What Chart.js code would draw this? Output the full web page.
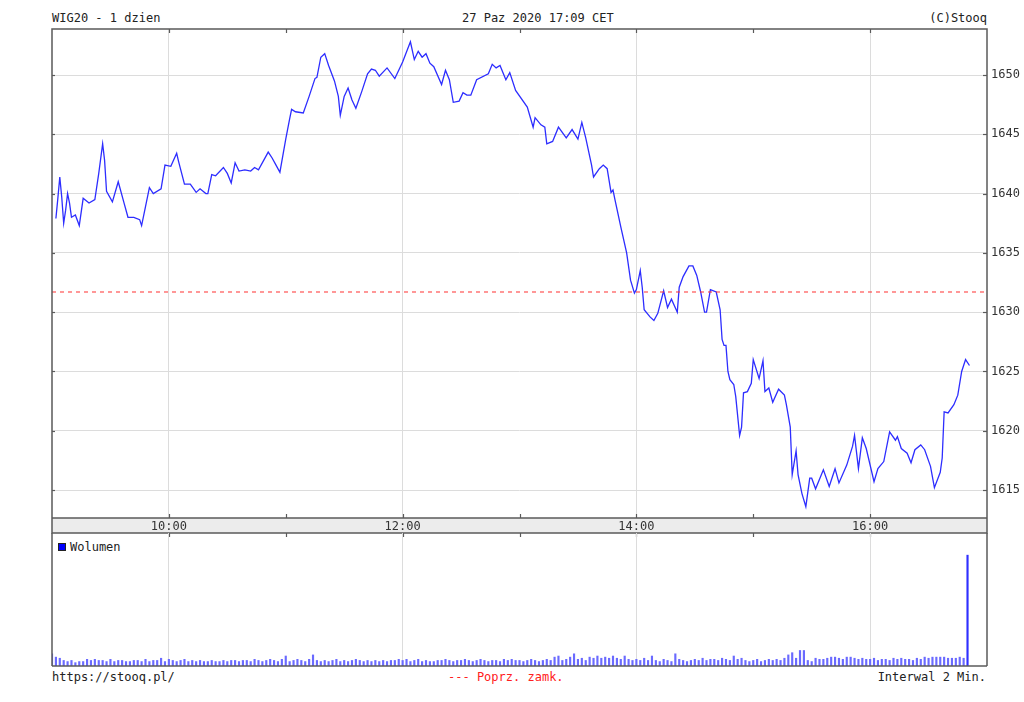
<!DOCTYPE html>
<html>
<head>
<meta charset="utf-8">
<script src="https://cdn.jsdelivr.net/npm/chart.js@4/dist/chart.umd.min.js"></script>
<style>
    body { margin: 0; background: #fff; width: 1024px; height: 702px; overflow: hidden; position: relative;
           font-family: 'DejaVu Sans Mono', monospace; font-size: 12px; color: #222; }
    .txt { position: absolute; line-height: 12px; white-space: pre; }
    canvas { position: absolute; left: 0; }
    .sq { display: inline-block; width: 6px; height: 6px; background: #0000ff; border: 1px solid #222; margin-right: 4px; vertical-align: 0; }
</style>
</head>
<body>
<div class="txt" style="left:52px;top:12px">WIG20 - 1 dzien</div>
<div class="txt" style="left:462px;top:12px">27 Paz 2020 17:09 CET</div>
<div class="txt" style="right:37px;top:12px">(C)Stooq</div>
<div class="txt" style="left:58px;top:541px"><span class="sq"></span>Wolumen</div>
<div class="txt" style="left:52px;top:671px">https://stooq.pl/</div>
<div class="txt" style="left:448px;top:671px;color:#ff2020">--- Poprz. zamk.</div>
<div class="txt" style="right:38px;top:671px">Interwal 2 Min.</div>

<canvas id="priceChart" width="1024" height="540" style="top:0"></canvas>
<canvas id="volumeChart" width="1024" height="140" style="top:530px"></canvas>

<script>
    'use strict';

    // Session axis: minutes after 09:00, session shown 09:00 - 17:00
    const sessionStart = 0;
    const sessionEnd = 480;
    const timeTicks = ['10:00', '12:00', '14:00', '16:00'];
    const priceTicks = [1615, 1620, 1625, 1630, 1635, 1640, 1645, 1650];
    const previousClose = 1631.7;

    // WIG20 intraday (minutes after 09:00)
    const priceMinutes = [
        2, 3, 4, 5, 6, 7, 8, 9, 10, 12, 14, 16, 19, 22, 24, 26, 27, 28, 31, 34,
        37, 39, 42, 45, 46, 48, 50, 52, 56, 58, 61, 64, 65, 68, 71, 74, 76, 79, 80, 82,
        84, 88, 90, 92, 94, 96, 99, 102, 104, 106, 111, 113, 115, 117, 120, 122, 123, 125, 129, 132,
        135, 136, 138, 140, 142, 145, 147, 148, 150, 152, 154, 156, 159, 162, 164, 166, 168, 172, 176, 180,
        184, 186, 188, 190, 192, 194, 196, 200, 202, 204, 206, 209, 211, 213, 215, 218, 224, 226, 228, 230,
        233, 235, 238, 244, 247, 248, 251, 253, 254, 257, 260, 264, 267, 270, 272, 274, 277, 278, 281, 283,
        285, 287, 288, 289, 292, 295, 297, 299, 300, 302, 303, 304, 307, 309, 311, 314, 316, 318, 321, 322,
        324, 327, 329, 331, 333, 335, 336, 338, 341, 343, 344, 345, 346, 347, 348, 350, 351, 353, 354, 355,
        357, 359, 360, 363, 365, 366, 368, 370, 373, 376, 377, 379, 380, 382, 383, 385, 387, 389, 390, 392,
        396, 399, 402, 404, 408, 411, 412, 414, 416, 418, 422, 424, 427, 430, 433, 434, 436, 439, 441, 443,
        446, 448, 451, 453, 456, 457, 458, 460, 463, 465, 467, 469, 471
    ];
    const priceValues = [
        1637.9, 1639.6, 1641.4, 1639.7, 1637.5, 1638.6, 1640.0, 1639.2, 1638.0, 1638.2, 1637.3, 1639.6, 1639.2, 1639.5, 1641.7, 1644.2, 1642.8, 1640.2, 1639.3, 1641.0,
        1639.2, 1638.0, 1638.0, 1637.8, 1637.3, 1638.9, 1640.5, 1640.0, 1640.4, 1642.4, 1642.3, 1643.4, 1642.7, 1640.8, 1640.8, 1640.1, 1640.4, 1640.0, 1640.0, 1641.6,
        1641.5, 1642.2, 1641.7, 1640.9, 1642.6, 1641.9, 1642.0, 1641.9, 1642.2, 1642.0, 1643.5, 1643.0, 1642.4, 1641.8, 1644.6, 1646.3, 1647.1, 1646.9, 1646.8, 1648.2,
        1649.7, 1649.8, 1651.5, 1651.8, 1650.8, 1649.5, 1648.2, 1646.6, 1648.2, 1648.9, 1647.9, 1647.2, 1648.6, 1650.1, 1650.5, 1650.4, 1649.9, 1650.6, 1649.7, 1651.1,
        1652.8, 1651.3, 1652.0, 1651.5, 1651.8, 1651.0, 1650.7, 1649.2, 1650.4, 1649.6, 1647.7, 1647.8, 1648.5, 1648.3, 1648.3, 1649.6, 1650.1, 1650.9, 1650.6, 1650.8,
        1649.6, 1650.2, 1648.7, 1647.3, 1645.6, 1646.4, 1645.8, 1645.6, 1644.2, 1644.4, 1645.6, 1644.7, 1645.4, 1644.6, 1646.0, 1644.7, 1642.4, 1641.4, 1642.1, 1642.4,
        1642.1, 1640.1, 1640.3, 1639.5, 1637.2, 1635.0, 1632.7, 1631.6, 1631.9, 1633.5, 1632.1, 1630.2, 1629.6, 1629.3, 1629.9, 1631.8, 1630.4, 1631.1, 1630.0, 1632.1,
        1633.0, 1633.9, 1633.9, 1633.1, 1631.7, 1630.0, 1630.0, 1631.9, 1631.7, 1630.2, 1627.7, 1627.2, 1627.2, 1625.0, 1624.3, 1623.9, 1622.9, 1619.6, 1620.3, 1623.2,
        1623.3, 1624.0, 1626.0, 1624.4, 1625.9, 1623.3, 1623.6, 1622.4, 1623.5, 1623.0, 1622.2, 1620.3, 1616.3, 1618.3, 1616.3, 1614.7, 1613.6, 1616.0, 1616.0, 1615.1,
        1616.7, 1615.3, 1616.8, 1615.6, 1617.1, 1618.7, 1619.6, 1616.8, 1619.4, 1618.5, 1615.7, 1616.8, 1617.4, 1619.9, 1619.2, 1619.5, 1618.5, 1618.1, 1617.3, 1618.4,
        1618.8, 1618.4, 1617.0, 1615.2, 1616.5, 1617.7, 1621.6, 1621.5, 1622.2, 1623.0, 1625.0, 1626.0, 1625.5
    ];

    // Volume per 2-minute bar, starting 09:00
    const volumeInterval = 2;
    const volumeValues = [
        11, 8, 7, 5, 4, 5, 3, 4, 4, 6,
        5, 6, 5, 5, 4, 6, 4, 5, 5, 4,
        4, 5, 5, 4, 6, 4, 5, 5, 7, 4,
        6, 5, 4, 5, 6, 4, 5, 4, 5, 4,
        4, 5, 4, 4, 5, 4, 5, 5, 4, 5,
        5, 4, 6, 5, 4, 5, 6, 5, 4, 6,
        9, 4, 5, 6, 5, 4, 6, 10, 5, 4,
        5, 4, 5, 6, 4, 5, 4, 5, 6, 5,
        4, 5, 4, 5, 4, 5, 4, 5, 5, 6,
        5, 6, 4, 5, 6, 4, 5, 4, 4, 5,
        5, 6, 5, 4, 5, 5, 6, 5, 4, 5,
        6, 5, 4, 5, 5, 4, 6, 5, 6, 5,
        5, 4, 5, 6, 5, 4, 5, 6, 5, 8,
        9, 5, 6, 8, 11, 6, 7, 5, 8, 7,
        9, 7, 8, 7, 9, 7, 6, 9, 6, 5,
        6, 5, 7, 5, 9, 5, 4, 6, 5, 4,
        11, 6, 5, 4, 5, 6, 5, 7, 5, 6,
        6, 5, 7, 6, 5, 9, 6, 7, 5, 4,
        5, 6, 4, 5, 6, 5, 6, 5, 7, 10,
        12, 7, 14, 14, 5, 4, 7, 6, 6, 7,
        8, 8, 7, 6, 8, 8, 7, 6, 7, 6,
        6, 7, 5, 6, 6, 5, 7, 6, 7, 6,
        6, 5, 7, 6, 8, 7, 8, 8, 8, 8,
        7, 7, 7, 8, 7, 100
    ];

    const toMinutes = (label) => {
        const [h, m] = label.split(':').map(Number);
        return (h - 9) * 60 + m;
    };
    const toLabel = (v) => `${9 + Math.floor(v / 60)}:${String(v % 60).padStart(2, '0')}`;
    const gridMinutes = timeTicks.map(toMinutes);

    const FRAME = '#5a5a5a';
    const GRID = '#dcdcdc';
    const MONO = "'DejaVu Sans Mono', monospace";

    const hourMarks = [];
    for (let v = sessionStart + 60; v < sessionEnd; v += 60) hourMarks.push(v);

    const line = (ctx, x1, y1, x2, y2) => {
        ctx.beginPath();
        ctx.moveTo(x1, y1);
        ctx.lineTo(x2, y2);
        ctx.stroke();
    };

    // Frame, time band edges and small tick marks for the price panel
    const priceFrame = {
        id: 'priceFrame',
        afterDraw(chart) {
            const { ctx, chartArea: a, scales } = chart;
            const bandBottom = scales.x.bottom;
            ctx.save();
            ctx.strokeStyle = FRAME;
            ctx.lineWidth = 1.5;
            ctx.strokeRect(a.left, a.top, a.right - a.left, bandBottom - a.top);
            line(ctx, a.left, a.bottom, a.right, a.bottom);
            ctx.lineWidth = 1.2;
            hourMarks.forEach((v) => {
                const x = Math.round(scales.x.getPixelForValue(v)) + 0.5;
                line(ctx, x, a.top, x, a.top + 4);
                line(ctx, x, a.bottom - 4, x, a.bottom);
                line(ctx, x, bandBottom, x, bandBottom + 4);
            });
            priceTicks.forEach((v) => {
                const y = Math.round(scales.y.getPixelForValue(v)) + 0.5;
                line(ctx, a.right - 4, y, a.right, y);
                line(ctx, a.left, y, a.left + 3, y);
            });
            ctx.restore();
        }
    };

    const volumeFrame = {
        id: 'volumeFrame',
        afterDraw(chart) {
            const { ctx, chartArea: a } = chart;
            ctx.save();
            ctx.strokeStyle = FRAME;
            ctx.lineWidth = 1.5;
            line(ctx, a.left, a.top, a.left, a.bottom);
            line(ctx, a.right, a.top, a.right, a.bottom);
            line(ctx, a.left, a.bottom, a.right, a.bottom);
            ctx.restore();
        }
    };

    const priceData = priceMinutes.map((m, i) => ({ x: m, y: priceValues[i] }));
    const closeData = [{ x: sessionStart, y: previousClose }, { x: sessionEnd, y: previousClose }];
    const volumeData = volumeValues.map((v, i) => ({ x: sessionStart + i * volumeInterval, y: v }));

    new Chart(document.getElementById('priceChart'), {
        type: 'line',
        data: {
            datasets: [
                {
                    data: closeData,
                    borderColor: '#ff3030',
                    borderWidth: 1,
                    borderDash: [4, 4],
                    pointRadius: 0
                },
                {
                    data: priceData,
                    borderColor: 'rgb(45, 45, 255)',
                    borderWidth: 1.3,
                    pointRadius: 0,
                    tension: 0
                }
            ]
        },
        options: {
            responsive: false,
            animation: false,
            events: [],
            layout: { padding: { left: 52, top: 29, right: 0, bottom: 7 } },
            plugins: { legend: { display: false }, tooltip: { enabled: false } },
            scales: {
                x: {
                    type: 'linear',
                    min: sessionStart,
                    max: sessionEnd,
                    backgroundColor: '#ececec',
                    border: { display: false },
                    grid: { color: GRID, lineWidth: 1, drawTicks: false },
                    afterBuildTicks: (axis) => { axis.ticks = gridMinutes.map((v) => ({ value: v })); },
                    afterFit: (axis) => { axis.height = 15; },
                    ticks: {
                        autoSkip: false,
                        maxRotation: 0,
                        padding: 2,
                        color: '#333',
                        font: { family: MONO, size: 12 },
                        callback: (v) => toLabel(v)
                    }
                },
                y: {
                    position: 'right',
                    min: 1612.64,
                    max: 1653.88,
                    border: { display: false },
                    grid: { color: GRID, lineWidth: 1, drawTicks: false },
                    afterBuildTicks: (axis) => { axis.ticks = priceTicks.map((v) => ({ value: v })); },
                    afterFit: (axis) => { axis.width = 37; },
                    ticks: {
                        padding: 4,
                        color: '#333',
                        font: { family: MONO, size: 12 },
                        callback: (v) => String(v)
                    }
                }
            }
        },
        plugins: [priceFrame]
    });

    new Chart(document.getElementById('volumeChart'), {
        type: 'bar',
        data: {
            datasets: [{
                data: volumeData,
                backgroundColor: volumeValues.map((v) => (v > 50 ? '#3030ff' : '#6a6aff')),
                barThickness: 1.5,
                borderWidth: 0
            }]
        },
        options: {
            responsive: false,
            animation: false,
            events: [],
            layout: { padding: { left: 52, top: 3, right: 37, bottom: 4 } },
            plugins: { legend: { display: false }, tooltip: { enabled: false } },
            scales: {
                x: {
                    type: 'linear',
                    min: sessionStart,
                    max: sessionEnd,
                    offset: false,
                    border: { display: false },
                    grid: { color: GRID, lineWidth: 1, drawTicks: false, offset: false },
                    afterBuildTicks: (axis) => { axis.ticks = gridMinutes.map((v) => ({ value: v })); },
                    afterFit: (axis) => { axis.height = 0; },
                    ticks: { display: false }
                },
                y: {
                    display: false,
                    min: 0,
                    max: 120
                }
            }
        },
        plugins: [volumeFrame]
    });
</script>
</body>
</html>
